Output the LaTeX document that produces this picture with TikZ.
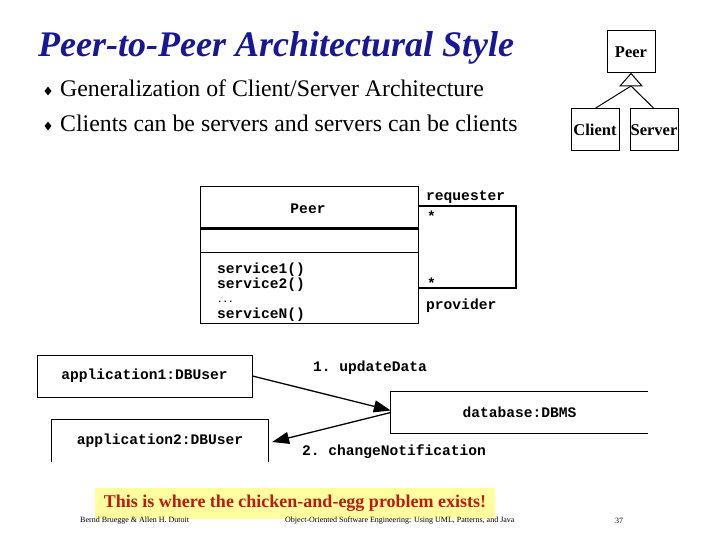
\documentclass[tikz,border=0pt]{standalone}
\usepackage{fontspec}
\setmainfont{Liberation Serif}
\setmonofont{Liberation Mono}
\usetikzlibrary{arrows.meta, positioning, shapes.geometric}

\definecolor{titleblue}{RGB}{24,24,150}
\definecolor{notered}{RGB}{190,25,20}
\definecolor{noteyellow}{RGB}{255,255,160}

\begin{document}
\begin{tikzpicture}[x=1pt, y=-1pt,
    umlbox/.style={draw, rectangle, line width=1pt, inner sep=0pt,
                   minimum width=48pt, minimum height=42pt,
                   font=\bfseries\fontsize{16.5}{16.5}\selectfont},
    objbox/.style={rectangle, inner sep=0pt, minimum height=42pt,
                   font=\ttfamily\bfseries\fontsize{14.6}{14.6}\selectfont},
    mono/.style={inner sep=0pt, font=\ttfamily\bfseries\fontsize{14.6}{15}\selectfont},
    bulletmark/.style={diamond, fill=black, inner sep=0pt,
                       minimum width=7pt, minimum height=9pt},
    bullettext/.style={anchor=base west, inner sep=0pt,
                       font=\fontsize{23.8}{23.8}\selectfont},
    msg/.style={-{Triangle[length=17pt, width=12pt]}, line width=1.3pt},
    footer/.style={inner sep=0pt, font=\fontsize{8}{8}\selectfont}
  ]
    \useasboundingbox (0,0) rectangle (720,540);

    % title and bullets
    \node[anchor=base west, inner sep=0pt, text=titleblue,
          font=\bfseries\itshape\fontsize{36}{36}\selectfont] (title) at (38,57)
          {Peer-to-Peer Architectural Style};
    \node[bulletmark] (dot1) at (48,91) {};
    \node[bullettext] (item1) at (60,97) {Generalization of Client/Server Architecture};
    \node[bulletmark] (dot2) at (48,126) {};
    \node[bullettext] (item2) at (60,132) {Clients can be servers and servers can be clients};

    % generalization
    \node[umlbox] (peer)   at (631,52)  {Peer};
    \node[umlbox] (client) at (595,130) {Client};
    \node[umlbox] (server) at (654,130) {Server};
    \coordinate (genbase) at (631,86);
    \draw[line width=1pt] (peer.south) -- (620,86) -- (642,86) -- cycle;
    \draw[line width=1pt] (genbase) -- (client.north);
    \draw[line width=1pt] (genbase) -- (server.north);

    % class with self association
    \node[draw, line width=1pt, anchor=north west, minimum width=218pt,
          minimum height=137pt, inner sep=0pt] (peercls) at (200,186) {};
    \node[mono] (clsname) at (308,209) {Peer};
    \draw[line width=3pt] (200,228.5) -- (418,228.5);
    \draw[line width=1pt] (200,252) -- (418,252);
    \node[mono, anchor=north west, align=left] (ops) at (217,263)
      {service1()\\service2()\\[-1pt]{\fontsize{9}{9}\selectfont ...}\\[1pt]serviceN()};

    \coordinate (req)  at (418,206);
    \coordinate (prov) at (418,288);
    \draw[line width=1.2pt] (req) -- ++(98,0) -- ++(0,82) -- (prov);
    \node[mono, anchor=base west] (reqlbl)  at (426,201) {requester};
    \node[mono, anchor=base west] (reqmult) at (427,222) {*};
    \node[mono, anchor=base west] (provmult) at (427,288) {*};
    \node[mono, anchor=base west] (provlbl) at (426,309) {provider};

    % objects and messages
    \node[objbox, draw, line width=1pt, minimum width=215pt] (app1) at (144.5,376)
      {application1:DBUser};
    \node[objbox, minimum width=257pt, minimum height=41pt] (db) at (519.5,412.5)
      {database:DBMS};
    \draw[line width=1pt] (db.north east) -- (db.north west) -- (db.south west) -- (db.south east);
    \node[objbox, minimum width=216pt] (app2) at (160,441) {application2:DBUser};
    \draw[line width=1pt] (app2.south west) -- (app2.north west) -- (app2.north east) -- (app2.south east);

    \draw[msg] (app1.east) -- ([yshift=2pt]db.west);
    \draw[msg, shorten >=4pt] (db.west) -- ([yshift=-2pt]app2.east);
    \node[mono] (msg1) at (370,368) {1. updateData};
    \node[mono] (msg2) at (394,452) {2. changeNotification};

    % note and footer
    \node[fill=noteyellow, text=notered, minimum width=400pt, minimum height=31pt,
          inner sep=0pt, font=\bfseries\fontsize{18}{18}\selectfont] (note) at (295,503)
          {This is where the chicken-and-egg problem exists!};
    \node[footer, anchor=west] (author) at (80,521) {Bernd Bruegge \& Allen H. Dutoit};
    \node[footer, anchor=west] (book) at (285,521)
      {Object-Oriented Software Engineering: Using UML, Patterns, and Java};
    \node[footer] (page) at (619,521) {37};
\end{tikzpicture}
\end{document}
